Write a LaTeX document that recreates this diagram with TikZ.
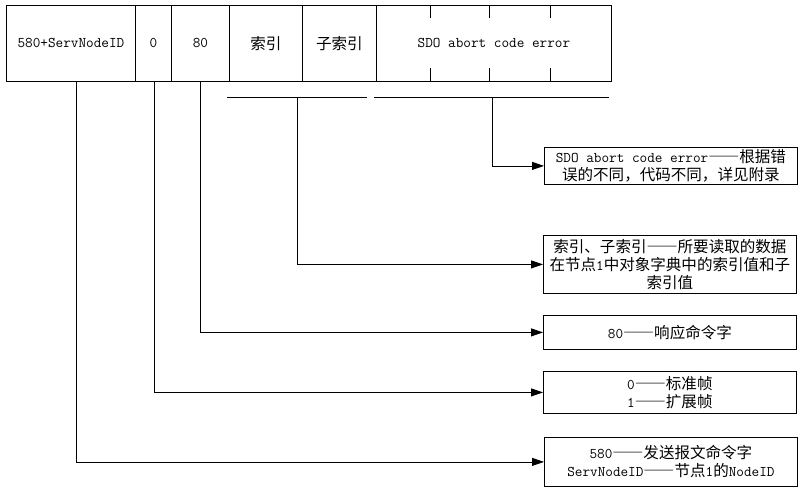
\documentclass[tikz,border=0pt]{standalone}
\usepackage{fontspec}
\setmainfont{Latin Modern Mono}
\newfontfamily\zh[Scale=1.05, RawFeature=+fwid]{Noto Sans CJK SC}
\usetikzlibrary{arrows.meta}
\begin{document}
\begin{tikzpicture}[x=1pt,y=-1pt,
  font=\fontsize{14.8}{18}\selectfont,
  cell/.style={draw, line width=0.8pt, minimum height=76pt, inner sep=0pt, anchor=north west},
  note/.style={draw, line width=0.8pt, align=center, inner sep=0pt, minimum width=253pt, anchor=north west},
  link/.style={line width=0.8pt},
  arr/.style={line width=0.8pt, -{Triangle[length=12pt,width=8pt]}}]
\useasboundingbox (0,0) rectangle (800,488);

% top frame cells
\node[cell, minimum width=129pt] (b1) at (6,5) {580+ServNodeID};
\node[cell, minimum width=36pt]  (b2) at (135,5) {0};
\node[cell, minimum width=58pt]  (b3) at (171,5) {80};
\node[cell, minimum width=73pt]  (b4) at (229,5) {{\zh 索引}};
\node[cell, minimum width=74pt]  (b5) at (302,5) {{\zh 子索引}};
\node[cell, minimum width=235pt] (b6) at (376,5) {SDO abort code error};

% ticks in last cell
\foreach \x in {430,489,550}{
  \draw[link] (\x,5) -- (\x,18);
  \draw[link] (\x,68) -- (\x,81);
}

% explanation boxes
\node[note, minimum height=37pt] (bA) at (544,147)
  {SDO abort code error{\zh ——根据错}\\{\zh 误的不同，代码不同，详见附录}};
\node[note, minimum height=58pt] (bB) at (543,235)
  {{\zh 索引、子索引——所要读取的数据}\\{\zh 在节点}1{\zh 中对象字典中的索引值和子}\\{\zh 索引值}};
\node[note, minimum height=34pt] (bC) at (543,315)
  {80{\zh ——响应命令字}};
\node[note, minimum height=42pt] (bD) at (543,371)
  {0{\zh ——标准帧}\\1{\zh ——扩展帧}};
\node[note, minimum height=49pt] (bE) at (544,437)
  {580{\zh ——发送报文命令字}\\ServNodeID{\zh ——节点}1{\zh 的}NodeID};

% bracket lines under index fields
\coordinate (h1a) at (227,97);
\coordinate (h1b) at (367,97);
\coordinate (h1)  at (297,97);
\coordinate (h2a) at (374,97);
\coordinate (h2b) at (609,97);
\coordinate (h2)  at (492,97);
\draw[link] (h1a) -- (h1b);
\draw[link] (h2a) -- (h2b);

% connector origins
\coordinate (s1) at (76,81);
\coordinate (s2) at (154,81);
\coordinate (s3) at (200,81);

\draw[arr] (h2) |- (bA.west);
\draw[arr] (h1) |- (bB.west);
\draw[arr] (s3) |- (bC.west);
\draw[arr] (s2) |- (bD.west);
\draw[arr] (s1) |- (bE.west);
\end{tikzpicture}
\end{document}
